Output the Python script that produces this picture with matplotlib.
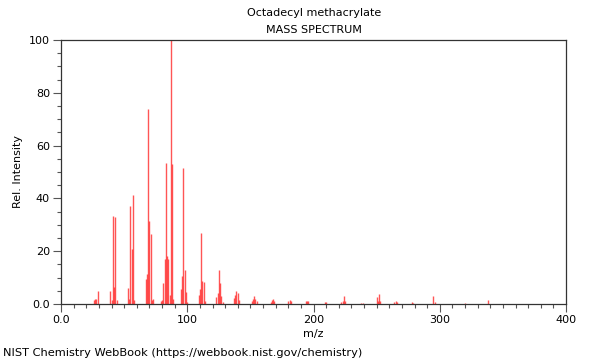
import matplotlib
matplotlib.use("Agg")
import matplotlib.pyplot as plt
from matplotlib.ticker import MultipleLocator, FixedLocator

mz = [26, 27, 28, 29, 39, 40, 41, 42, 43, 44, 53, 54, 55, 56, 57, 58,
      67, 68, 69, 70, 71, 72, 73, 79, 80, 81, 82, 83, 84, 85, 86, 87, 88, 89,
      95, 96, 97, 98, 99, 100, 109, 110, 111, 112, 113, 114,
      123, 124, 125, 126, 127, 128, 137, 138, 139, 140, 141,
      151, 152, 153, 154, 155, 166, 167, 168, 169, 180, 181, 182,
      194, 195, 196, 209, 210, 222, 223, 224, 225, 238, 239,
      250, 251, 252, 253, 264, 265, 266, 278, 279, 295, 296, 320, 338]
intensity = [1.5, 2, 2, 4.9, 5, 1.7, 33.3, 6.4, 33, 1.7, 6, 2, 37, 21, 41.3, 1.5,
             9.3, 11.3, 74, 31.4, 26.4, 1.5, 1.9, 1, 1.5, 8, 17, 53.5, 18, 17, 3.4, 100, 53, 1.9,
             5.8, 10.6, 51.4, 12.9, 4.7, 0.7, 3.4, 5.6, 26.8, 8.7, 8.2, 1,
             2.8, 4.3, 12.9, 7.8, 3, 0.8, 2.1, 3.4, 5, 4.3, 1.5,
             1, 2, 3, 2, 1, 0.8, 1.5, 1.9, 1, 1, 1.4, 1,
             1, 1.2, 1, 0.6, 0.8, 0.8, 1, 3.1, 1, 0.5, 0.5,
             2.5, 1, 3.8, 1, 0.7, 1.1, 0.6, 0.6, 0.5, 3, 0.8, 0.4, 1.5]

x_major = [0, 100, 200, 300, 400]
x_labels = ["0.0", "100", "200", "300", "400"]
y_major = [0, 20, 40, 60, 80, 100]
y_labels = ["0.0", "20", "40", "60", "80", "100"]

fig = plt.figure(figsize=(6, 3.6), dpi=100)
ax = fig.add_axes([61/600, 56/360, 505/600, 264/360])

ax.vlines(mz, 0, intensity, color="#ff2a2a", alpha=0.8, linewidth=1.0)

ax.set_xlim(0, 400)
ax.set_ylim(0, 100)
ax.xaxis.set_major_locator(FixedLocator(x_major))
ax.set_xticklabels(x_labels)
ax.yaxis.set_major_locator(FixedLocator(y_major))
ax.set_yticklabels(y_labels)
ax.xaxis.set_minor_locator(MultipleLocator(10))
ax.yaxis.set_minor_locator(MultipleLocator(5))

for s in ax.spines.values():
    s.set_color("#333333")
    s.set_linewidth(0.9)
ax.tick_params(axis="both", which="major", length=6, width=0.8, color="#555555",
               labelsize=8, labelcolor="black", pad=2)
ax.tick_params(axis="both", which="minor", length=3, width=0.8, color="#555555")

ax.set_xlabel("m/z", fontsize=8, labelpad=3)
ax.set_ylabel("Rel. Intensity", fontsize=8, labelpad=4)

fig.text(314/600, 1 - 13/360, "Octadecyl methacrylate", ha="center", va="center", fontsize=8)
fig.text(314/600, 1 - 30/360, "MASS SPECTRUM", ha="center", va="center", fontsize=8)
fig.text(3/600, 1 - 353/360, "NIST Chemistry WebBook (https://webbook.nist.gov/chemistry)",
         ha="left", va="center", fontsize=8.2)

fig.savefig("out.png", dpi=100)
